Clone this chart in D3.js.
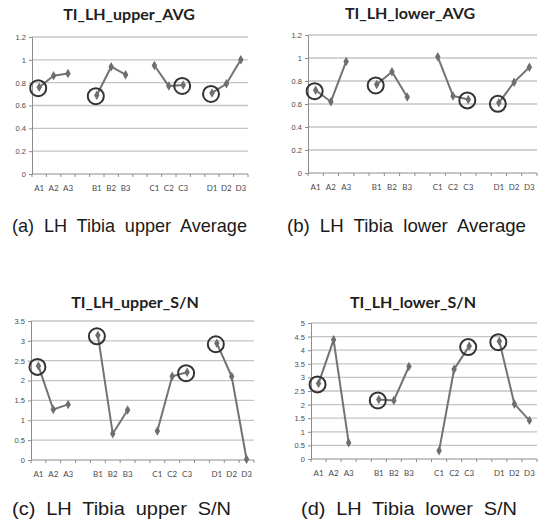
<!DOCTYPE html>
<html lang="en">

<head>
    <meta charset="UTF-8">
    <script src="https://d3js.org/d3.v7.min.js" charset="utf-8"></script>
    <title>LH Tibia</title>
</head>

<body style="margin:0;background:#fff">
    <div id="chart"></div>

    <script>

        // niveaux des facteurs A..D (avec un vide entre chaque groupe)
        const groups = [["A1", "A2", "A3"], ["B1", "B2", "B3"], ["C1", "C2", "C3"], ["D1", "D2", "D3"]];
        const slots = ["A1", "A2", "A3", "g1", "B1", "B2", "B3", "g2", "C1", "C2", "C3", "g3", "D1", "D2", "D3"];

        const upperAvg = [0.76, 0.86, 0.88, 0.69, 0.94, 0.87, 0.95, 0.77, 0.78, 0.71, 0.79, 1.00];
        const lowerAvg = [0.72, 0.62, 0.97, 0.77, 0.88, 0.66, 1.01, 0.67, 0.64, 0.61, 0.79, 0.92];
        const upperSN = [2.37, 1.27, 1.40, 3.14, 0.66, 1.26, 0.73, 2.11, 2.21, 2.94, 2.10, 0.02];
        const lowerSN = [2.78, 4.38, 0.60, 2.19, 2.15, 3.40, 0.30, 3.30, 4.15, 4.33, 2.02, 1.42];

        // niveaux entourés (optimum)
        const circled = ["A1", "B1", "C3", "D1"];

        const avgTicks = [0, 0.2, 0.4, 0.6, 0.8, 1, 1.2];
        const upperSNTicks = [0, 0.5, 1, 1.5, 2, 2.5, 3, 3.5];
        const lowerSNTicks = [0, 0.5, 1, 1.5, 2, 2.5, 3, 3.5, 4, 4.5, 5];

        const titles = ["TI_LH_upper_AVG", "TI_LH_lower_AVG", "TI_LH_upper_S/N", "TI_LH_lower_S/N"];
        const captions = ["(a) LH Tibia upper Average", "(b) LH Tibia lower Average",
            "(c) LH Tibia upper S/N", "(d) LH Tibia lower S/N"];

        const width = 540, height = 522;

        const panels = [
            { values: upperAvg, ticks: avgTicks, x0: 32, x1: 248, yTop: 37, y0: 174, tx: 129, ty: 20, cx0: 12, cx1: 247, cy: 232 },
            { values: lowerAvg, ticks: avgTicks, x0: 308, x1: 537, yTop: 35, y0: 173, tx: 410, ty: 19, cx0: 287, cx1: 526, cy: 232 },
            { values: upperSN, ticks: upperSNTicks, x0: 31, x1: 254, yTop: 321, y0: 460, tx: 135, ty: 308, cx0: 12, cx1: 231, cy: 515 },
            { values: lowerSN, ticks: lowerSNTicks, x0: 311, x1: 537, yTop: 323, y0: 459, tx: 413, ty: 308, cx0: 301, cx1: 517, cy: 515 }
        ];

        const svg = d3.select('#chart').append("svg")
            .attr("width", width)
            .attr("height", height)
            .style("font-family", "Lato, 'Open Sans', sans-serif");

        panels.forEach(function (p, i) {
            const g = svg.append("g");
            const levels = groups.flat();

            const x = d3.scaleBand().domain(slots).range([p.x0, p.x1]);
            const y = d3.scaleLinear()
                .domain([0, d3.max(p.ticks)])
                .range([p.y0, p.yTop]);

            // grille horizontale
            g.selectAll(".grid")
                .data(p.ticks.slice(1))
                .enter()
                .append("line")
                .attr("x1", p.x0).attr("x2", p.x1)
                .attr("y1", d => y(d)).attr("y2", d => y(d))
                .attr("stroke", "#c4c4c4")
                .attr("stroke-width", 1.3);

            // axe Y
            const yAxis = d3.axisLeft(y).tickValues(p.ticks).tickSize(3).tickFormat(d => String(+d.toFixed(1)));
            const ya = g.append("g").attr("transform", "translate(" + p.x0 + ",0)").call(yAxis);
            ya.select(".domain").attr("stroke", "#8c8c8c");
            ya.selectAll(".tick line").attr("stroke", "#8c8c8c");
            ya.selectAll("text").attr("fill", "#4a4a4a").style("font-size", "7.5px").attr("x", -6);

            // axe X : traits aux limites des cases
            const bounds = d3.range(slots.length + 1).map(k => p.x0 + k * x.step());
            g.append("line")
                .attr("x1", p.x0).attr("x2", p.x1)
                .attr("y1", p.y0).attr("y2", p.y0)
                .attr("stroke", "#8c8c8c");
            g.selectAll(".xt")
                .data(bounds)
                .enter()
                .append("line")
                .attr("x1", d => d).attr("x2", d => d)
                .attr("y1", p.y0).attr("y2", p.y0 + 3)
                .attr("stroke", "#8c8c8c");
            g.selectAll(".xl")
                .data(levels)
                .enter()
                .append("text")
                .attr("x", d => x(d) + x.bandwidth() / 2)
                .attr("y", p.y0 + 17)
                .attr("text-anchor", "middle")
                .attr("fill", "#4a4a4a")
                .style("font-size", "8px")
                .text(d => d);

            // lignes par facteur
            const line = d3.line()
                .x(d => x(d.level) + x.bandwidth() / 2)
                .y(d => y(d.v));
            groups.forEach(function (grp, gi) {
                const pts = grp.map((lv, k) => ({ level: lv, v: p.values[gi * 3 + k] }));
                g.append("path")
                    .attr("d", line(pts))
                    .attr("fill", "none")
                    .attr("stroke", "#737373")
                    .attr("stroke-width", 2);
            });

            const pts = levels.map((lv, k) => ({ level: lv, v: p.values[k] }));
            g.selectAll(".mk")
                .data(pts)
                .enter()
                .append("path")
                .attr("d", d3.symbol(d3.symbolDiamond, 26))
                .attr("fill", "#6e6e6e")
                .attr("transform", d => "translate(" + (x(d.level) + x.bandwidth() / 2) + "," + y(d.v) + ")");

            g.selectAll(".circ")
                .data(pts.filter(d => circled.includes(d.level)))
                .enter()
                .append("circle")
                .attr("cx", d => x(d.level) + x.bandwidth() / 2 - 1)
                .attr("cy", d => y(d.v) + 1)
                .attr("r", 8)
                .attr("fill", "none")
                .attr("stroke", "#333")
                .attr("stroke-width", 2);

            // titre
            g.append("text")
                .attr("x", p.tx).attr("y", p.ty)
                .attr("text-anchor", "middle")
                .attr("fill", "#222")
                .style("font-weight", "bold")
                .style("font-size", "16px")
                .text(titles[i]);

            // légende sous le graphique
            g.append("text")
                .attr("x", p.cx0).attr("y", p.cy)
                .attr("textLength", p.cx1 - p.cx0)
                .attr("lengthAdjust", "spacingAndGlyphs")
                .attr("fill", "#1a1a1a")
                .style("font-family", "'Liberation Sans', Arial, sans-serif")
                .style("font-size", "19px")
                .style("word-spacing", "5px")
                .text(captions[i]);
        });

    </script>
</body>

</html>
